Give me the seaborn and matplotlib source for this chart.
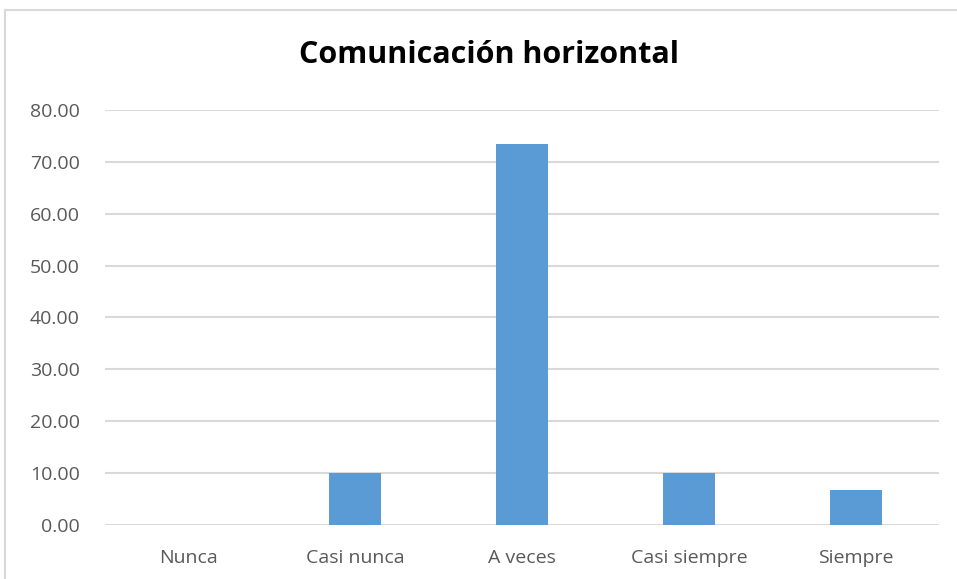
import matplotlib
matplotlib.use("Agg")
import matplotlib.pyplot as plt
import seaborn as sns
import pandas as pd
from matplotlib.patches import Rectangle

categorias = ['Nunca', 'Casi nunca', 'A veces', 'Casi siempre', 'Siempre']
porcentajes = [0.0, 10.0, 73.33, 10.0, 6.67]

df = pd.DataFrame({'categoria': categorias, 'porcentaje': porcentajes})

sns.set_style('white')
plt.rcParams['font.family'] = ['Open Sans', 'DejaVu Sans']

fig = plt.figure(figsize=(9.57, 5.79), dpi=100)
ax = fig.add_axes([0.1097, 0.0933, 0.872, 0.717])

sns.barplot(x='categoria', y='porcentaje', data=df, color='#5B9BD5',
            width=0.31, saturation=1, ax=ax, zorder=3, linewidth=0)

ax.set_ylim(0, 80)
ax.set_xlim(-0.5, 4.5)
ax.set_yticks(range(0, 81, 10))
ax.set_yticklabels(['%.2f' % v for v in range(0, 81, 10)])
ax.yaxis.grid(True, color='#d9d9d9', lw=1.5, zorder=0)
ax.set_axisbelow(True)
for s in ax.spines.values():
    s.set_visible(False)
ax.tick_params(axis='both', length=0, labelsize=14, colors='#595959')
ax.tick_params(axis='x', pad=17)
ax.tick_params(axis='y', pad=18)
ax.set_xlabel('')
ax.set_ylabel('')

fig.text(0.511, 0.905, 'Comunicación horizontal', ha='center', va='center',
         fontsize=22, fontweight='bold', color='black')

# chart border (cropped on the right and bottom)
fig.patches.append(Rectangle((5 / 957, -0.1), 1.1, 1.1 - 10 / 579,
                             transform=fig.transFigure, fill=False,
                             edgecolor='#d9d9d9', lw=1.5))

fig.savefig('out.png', dpi=100)
